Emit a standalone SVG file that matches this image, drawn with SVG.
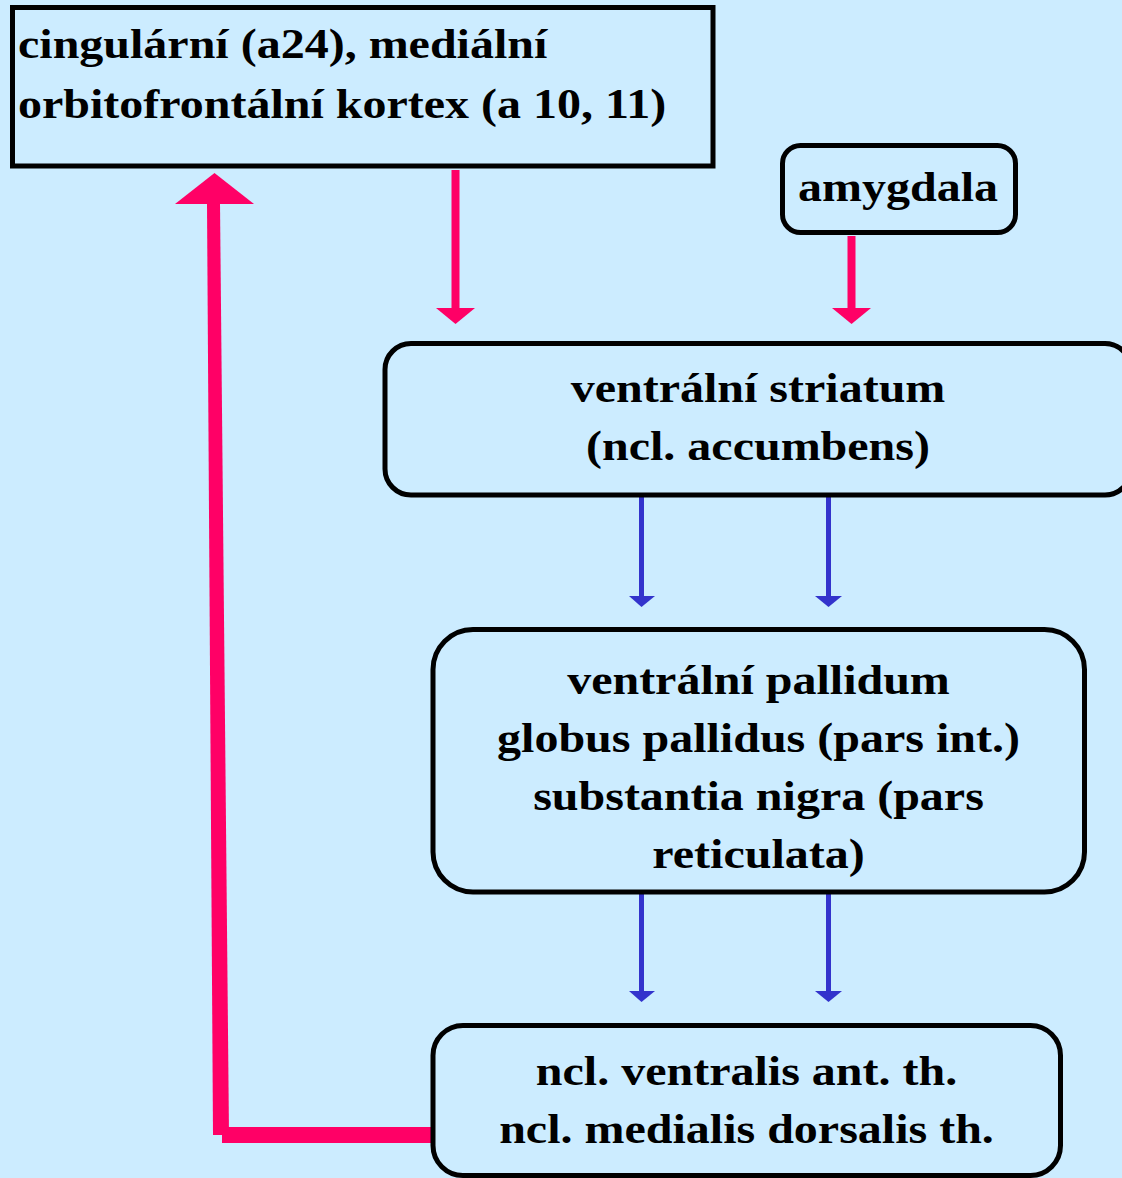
<svg xmlns="http://www.w3.org/2000/svg" width="1122" height="1178" viewBox="0 0 1122 1178">
<style>
.box{fill:none;stroke:#000;stroke-width:5}
.t{font-family:"Liberation Serif","Times New Roman",serif;font-weight:bold;font-size:42px;fill:#000}
.c{text-anchor:middle}
.pink{fill:#FF0066}
.blue{fill:#3333CC}
</style>
<rect width="1122" height="1178" fill="#CCECFF"/>
<g id="connectors">
  <polygon class="pink" points="207,203 220,203 229,1135 213,1135"/>
  <rect class="pink" x="222" y="1127" width="210" height="16"/>
  <polygon class="pink" points="214.5,173 254,204 175,204"/>
  <rect class="pink" x="451.5" y="170" width="8" height="140"/>
  <polygon class="pink" points="436,308 475,308 455.5,324"/>
  <rect class="pink" x="847.5" y="236" width="8" height="74"/>
  <polygon class="pink" points="832,308 871,308 851.5,324"/>
  <rect class="blue" x="639" y="497" width="5" height="101"/>
  <polygon class="blue" points="629,596 655,596 641.5,607"/>
  <rect class="blue" x="826" y="497" width="5" height="101"/>
  <polygon class="blue" points="815,596 842,596 828.5,607"/>
  <rect class="blue" x="639" y="894" width="5" height="99"/>
  <polygon class="blue" points="629,991 655,991 641.5,1002"/>
  <rect class="blue" x="826" y="894" width="5" height="99"/>
  <polygon class="blue" points="815,991 842,991 828.5,1002"/>
</g>
<g id="cortex">
  <rect class="box" x="12.5" y="7.5" width="700.5" height="158.5"/>
  <text class="t" transform="translate(18,58) scale(1.143,1)">cingulární (a24), mediální</text>
  <text class="t" transform="translate(18,118) scale(1.143,1)">orbitofrontální kortex (a 10, 11)</text>
</g>
<g id="amygdala">
  <rect class="box" x="782.5" y="145.5" width="233" height="87" rx="18"/>
  <text class="t c" transform="translate(898,201) scale(1.143,1)">amygdala</text>
</g>
<g id="striatum">
  <rect class="box" x="385" y="343.5" width="746" height="151.5" rx="26"/>
  <text class="t c" transform="translate(758,402) scale(1.143,1)">ventrální striatum</text>
  <text class="t c" transform="translate(758,460) scale(1.143,1)">(ncl. accumbens)</text>
</g>
<g id="pallidum">
  <rect class="box" x="433" y="629.5" width="651.5" height="262.5" rx="40"/>
  <text class="t c" transform="translate(758.5,694) scale(1.143,1)">ventrální pallidum</text>
  <text class="t c" transform="translate(758.5,752) scale(1.143,1)">globus pallidus (pars int.)</text>
  <text class="t c" transform="translate(758.5,810) scale(1.143,1)">substantia nigra (pars</text>
  <text class="t c" transform="translate(758.5,868) scale(1.143,1)">reticulata)</text>
</g>
<g id="thalamus">
  <rect class="box" x="433" y="1025.5" width="627.5" height="150" rx="30"/>
  <text class="t c" transform="translate(746.5,1085) scale(1.143,1)">ncl. ventralis ant. th.</text>
  <text class="t c" transform="translate(746.5,1143) scale(1.143,1)">ncl. medialis dorsalis th.</text>
</g>
</svg>
